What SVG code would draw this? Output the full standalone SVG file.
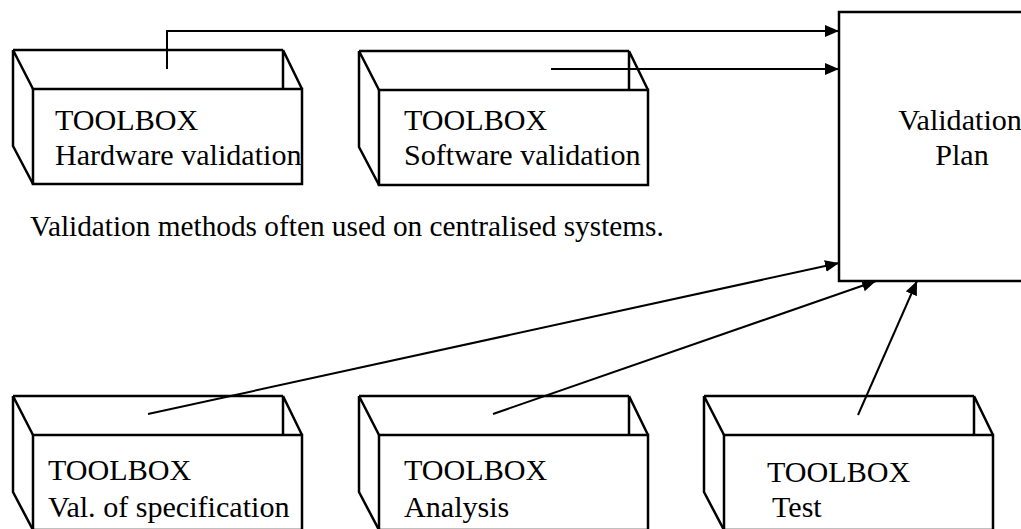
<svg xmlns="http://www.w3.org/2000/svg" width="1021" height="529" viewBox="0 0 1021 529">
<style>
.bx{fill:none;stroke:#000;stroke-width:2.5;stroke-linejoin:miter}
.cn{fill:none;stroke:#000;stroke-width:2}
.t{font-family:"Liberation Serif","Times New Roman",serif;font-size:30.1px;fill:#000}
.cap{font-size:29.3px}
</style>
<defs>
<marker id="ah" markerUnits="userSpaceOnUse" markerWidth="14" markerHeight="12" refX="14" refY="6" orient="auto">
<path d="M0,0 L14,6 L0,12 z" fill="#000"/>
</marker>
<g id="box">
<path class="bx" d="M0,0 H270 M0,0 V96 L20,134 M0,0 L20,39 M270,0 L289,39 M270,0 V39"/>
<rect class="bx" x="20" y="39" width="269" height="95"/>
</g>
</defs>
<rect width="1021" height="529" fill="#fff"/>
<g id="plan">
<rect x="839" y="12" width="260" height="269" fill="#fff" stroke="#000" stroke-width="2.5"/>
<text class="t" x="960" y="130" text-anchor="middle">Validation</text>
<text class="t" x="962" y="165" text-anchor="middle">Plan</text>
</g>
<g id="hw">
<use href="#box" x="13" y="50"/>
<text class="t" x="55" y="130">TOOLBOX</text>
<text class="t" x="55" y="165">Hardware validation</text>
</g>
<g id="sw">
<use href="#box" x="359" y="51"/>
<text class="t" x="404" y="130">TOOLBOX</text>
<text class="t" x="404" y="165">Software validation</text>
</g>
<g id="caption">
<text class="t cap" x="30" y="236">Validation methods often used on centralised systems.</text>
</g>
<g id="spec">
<use href="#box" x="13" y="396"/>
<text class="t" x="48" y="480">TOOLBOX</text>
<text class="t" x="48" y="517">Val. of specification</text>
</g>
<g id="analysis">
<use href="#box" x="359" y="396"/>
<text class="t" x="404" y="480">TOOLBOX</text>
<text class="t" x="404" y="517">Analysis</text>
</g>
<g id="test">
<use href="#box" x="704" y="396"/>
<text class="t" x="767" y="482">TOOLBOX</text>
<text class="t" x="772" y="517">Test</text>
</g>
<g id="connectors">
<path class="cn" d="M167,69 V31 H839" marker-end="url(#ah)"/>
<path class="cn" d="M551,69 H839" marker-end="url(#ah)"/>
<path class="cn" d="M148,414 L839,263" marker-end="url(#ah)"/>
<path class="cn" d="M493,414 L876,281" marker-end="url(#ah)"/>
<path class="cn" d="M858,415 L917,281" marker-end="url(#ah)"/>
</g>
</svg>
